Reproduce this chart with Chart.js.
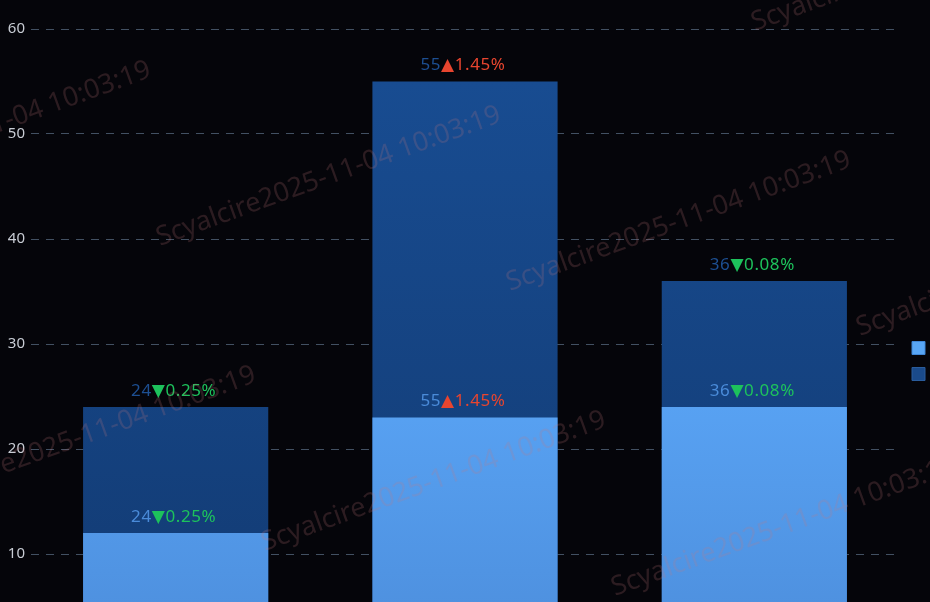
<!DOCTYPE html>
<html><head><meta charset="utf-8">
<script src="https://cdn.jsdelivr.net/npm/chart.js@4.4.1/dist/chart.umd.min.js"></script>
<style>
html,body{margin:0;padding:0;background:#05050a;overflow:hidden;width:930px;height:602px}
#wrap{position:absolute;left:0;top:0;width:989px;height:690px}
</style></head>
<body><div id="wrap"><canvas id="c" width="989" height="690"></canvas></div>
<script>
const categories = ['一月', '二月', '三月'];
const seriesNames = ['本期实际完成值', '本期累计完成值'];
const frontValues = [12, 23, 24];
const totalValues = [24, 55, 36];
const changePct = [-0.25, 1.45, -0.08];
const yTickValues = [0, 10, 20, 30, 40, 50, 60];
const watermarkText = 'Scyalcire2025-11-04 10:03:19';

const FONT = '"Noto Sans", "DejaVu Sans", sans-serif';

function grad(ctx, topVal, topColor, botColor) {
  const chart = ctx.chart;
  const ys = chart.scales.y;
  if (!chart.chartArea || !ys) return topColor;
  const g = chart.ctx.createLinearGradient(0, ys.getPixelForValue(topVal), 0, ys.getPixelForValue(0));
  g.addColorStop(0, topColor);
  g.addColorStop(1, botColor);
  return g;
}

const labelPlugin = {
  id: 'barLabels',
  afterDatasetsDraw(chart) {
    const ctx = chart.ctx;
    ctx.save();
    ctx.font = '17px ' + FONT;
    if ('letterSpacing' in ctx) ctx.letterSpacing = '0.6px';
    ctx.textBaseline = 'middle';
    const numColors = ['#4a8bd9', '#1d4f92'];
    chart.data.datasets.forEach((ds, di) => {
      const meta = chart.getDatasetMeta(di);
      meta.data.forEach((el, i) => {
        const num = String(totalValues[i]);
        const p = changePct[i];
        const arrow = p < 0 ? '▼' : '▲';
        const pct = Math.abs(p).toFixed(2) + '%';
        const col = p < 0 ? '#1dc25c' : '#e8452f';
        const w1 = ctx.measureText(num).width;
        const w2 = ctx.measureText(arrow + pct).width;
        const x0 = el.x - (w1 + w2) / 2 - 2;
        const y = el.y - 16;
        ctx.textAlign = 'left';
        ctx.fillStyle = numColors[di];
        ctx.fillText(num, x0, y);
        ctx.fillStyle = col;
        ctx.fillText(arrow + pct, x0 + w1, y);
      });
    });
    ctx.restore();
  }
};

const watermarkPlugin = {
  id: 'watermark',
  afterDraw(chart) {
    const ctx = chart.ctx;
    ctx.save();
    ctx.font = '27px ' + FONT;
    ctx.fillStyle = 'rgba(200,120,125,0.2)';
    ctx.textBaseline = 'alphabetic';
    ctx.textAlign = 'left';
    const A = [160, 246], v1 = [350, 45], v2 = [105, 305];
    for (let i = -3; i <= 3; i++) {
      for (let j = -3; j <= 3; j++) {
        const x = A[0] + i * v1[0] + j * v2[0];
        const y = A[1] + i * v1[1] + j * v2[1];
        if (x < -450 || x > 1000 || y < -150 || y > 800) continue;
        ctx.save();
        ctx.translate(x, y);
        ctx.rotate(-20 * Math.PI / 180);
        ctx.fillText(watermarkText, 0, 0);
        ctx.restore();
      }
    }
    ctx.restore();
  }
};

const bgPlugin = {
  id: 'bg',
  beforeDraw(chart) {
    const ctx = chart.ctx;
    ctx.save();
    ctx.fillStyle = '#05050a';
    ctx.fillRect(0, 0, chart.width, chart.height);
    ctx.restore();
  }
};

new Chart(document.getElementById('c'), {
  type: 'bar',
  data: {
    labels: categories,
    datasets: [
      {
        label: seriesNames[0],
        data: frontValues,
        grouped: false,
        backgroundColor: (ctx) => grad(ctx, 25, '#58a2f3', '#4c8ddb'),
        borderWidth: 0
      },
      {
        label: seriesNames[1],
        data: totalValues,
        grouped: false,
        backgroundColor: (ctx) => grad(ctx, 55, '#184c91', '#123a72'),
        borderWidth: 0
      }
    ]
  },
  options: {
    responsive: false,
    animation: false,
    devicePixelRatio: 1,
    layout: { padding: { top: 29, bottom: 31, left: 0, right: 0 } },
    datasets: { bar: { barPercentage: 0.64, categoryPercentage: 1 } },
    plugins: {
      tooltip: { enabled: false },
      legend: {
        position: 'right',
        align: 'center',
        maxWidth: 90,
        title: {
          display: true,
          text: ' ',
          font: { size: 10, family: FONT },
          padding: { top: 0, bottom: 22 }
        },
        labels: {
          boxWidth: 13,
          boxHeight: 13,
          padding: 13,
          color: '#c8cdd6',
          font: { size: 11, family: FONT },
          generateLabels(chart) {
            const fills = ['#58a6f5', '#1a4a8a'];
            const strokes = ['#3f86d6', '#2a5c9c'];
            return chart.data.datasets.map((ds, i) => ({
              text: ds.label,
              fillStyle: fills[i],
              strokeStyle: strokes[i],
              lineWidth: 1,
              fontColor: '#c8cdd6',
              datasetIndex: i,
              hidden: false
            }));
          }
        }
      }
    },
    scales: {
      x: {
        display: false,
        grid: { display: false }
      },
      y: {
        min: 0,
        max: 60,
        afterFit(scale) { scale.width = 31; },
        afterBuildTicks(scale) { scale.ticks = yTickValues.map(v => ({ value: v })); },
        grid: {
          color: '#425062',
          lineWidth: 1,
          drawTicks: false
        },
        border: { display: false, dash: [8, 7] },
        ticks: {
          padding: 6,
          color: '#c8ccd4',
          font: { size: 15, family: FONT }
        }
      }
    }
  },
  plugins: [bgPlugin, labelPlugin, watermarkPlugin]
});
</script>
</body></html>
